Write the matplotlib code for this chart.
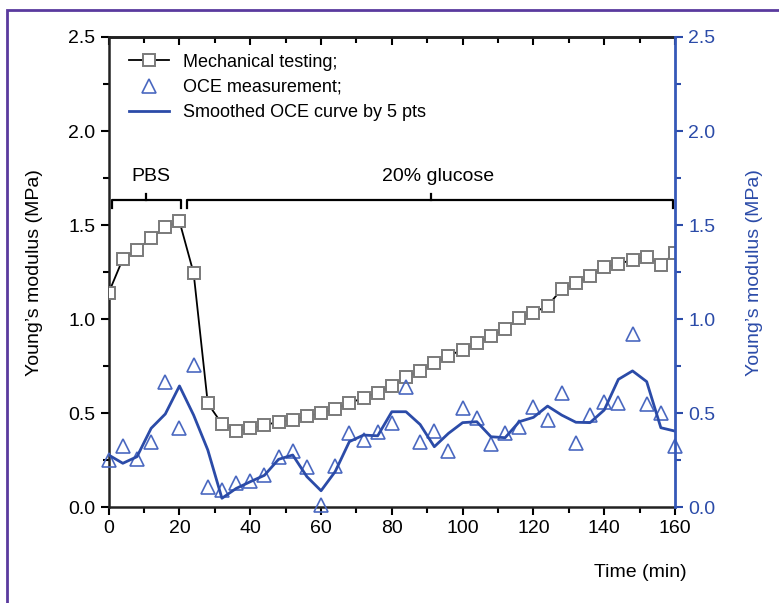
import matplotlib.pyplot as plt
from matplotlib.patches import Rectangle
from matplotlib.ticker import MultipleLocator
import numpy as np

plt.rcParams['font.family'] = ['Liberation Sans', 'DejaVu Sans']

time = np.arange(0, 161, 4)

mech = [1.14, 1.32, 1.37, 1.43, 1.49, 1.52, 1.245, 0.553, 0.443, 0.406,
        0.42, 0.436, 0.455, 0.464, 0.486, 0.50, 0.524, 0.553, 0.583, 0.61,
        0.645, 0.693, 0.725, 0.766, 0.806, 0.837, 0.872, 0.91, 0.948, 1.005,
        1.035, 1.07, 1.16, 1.19, 1.227, 1.277, 1.294, 1.315, 1.333, 1.29, 1.35]

oce = [0.25, 0.326, 0.255, 0.349, 0.668, 0.42, 0.757, 0.11, 0.092, 0.131,
       0.14, 0.172, 0.266, 0.30, 0.216, 0.012, 0.22, 0.393, 0.358, 0.402,
       0.45, 0.64, 0.349, 0.407, 0.30, 0.53, 0.473, 0.336, 0.397, 0.425,
       0.532, 0.464, 0.606, 0.343, 0.49, 0.56, 0.556, 0.92, 0.549, 0.503, 0.326]

smooth = [0.278, 0.234, 0.269, 0.42, 0.496, 0.645, 0.49, 0.305, 0.048, 0.10,
          0.136, 0.17, 0.255, 0.278, 0.163, 0.088, 0.19, 0.349, 0.384, 0.38,
          0.508, 0.508, 0.44, 0.322, 0.393, 0.45, 0.455, 0.375, 0.37, 0.455,
          0.478, 0.538, 0.49, 0.452, 0.45, 0.517, 0.68, 0.725, 0.668, 0.423, 0.405]

blue = '#2b4ba8'
fs = 14

fig = plt.figure(figsize=(7.79, 6.03), dpi=100)
ax = fig.add_axes([0.1395, 0.1587, 0.727, 0.78])

ax.plot(time, mech, color='black', lw=1.3, marker='s', ms=8.5, mfc='white',
        mec='#7a7a7a', mew=1.4, label='Mechanical testing;', zorder=3)
ax.plot(time, oce, ls='none', marker='^', ms=10, mfc='none', mec='#4a68c0',
        mew=1.2, label='OCE measurement;', clip_on=False, zorder=4)
ax.plot(time, smooth, color=blue, lw=2, label='Smoothed OCE curve by 5 pts', zorder=5)

ax.set_xlim(0, 160)
ax.set_ylim(0, 2.5)
ax.xaxis.set_major_locator(MultipleLocator(20))
ax.xaxis.set_minor_locator(MultipleLocator(10))
ax.yaxis.set_major_locator(MultipleLocator(0.5))
ax.yaxis.set_minor_locator(MultipleLocator(0.25))
ax.yaxis.set_major_formatter(plt.FormatStrFormatter('%.1f'))
ax.tick_params(axis='both', which='both', direction='out', labelsize=fs, width=1.5)
ax.tick_params(which='major', length=6)
ax.tick_params(which='minor', length=4)
for s in ['left', 'bottom', 'top']:
    ax.spines[s].set_linewidth(1.8)
    ax.spines[s].set_color('#222222')
ax.spines['right'].set_visible(False)
ax.set_ylabel('Young’s modulus (MPa)', fontsize=fs, labelpad=18)
ax.set_xlabel('Time (min)', fontsize=fs)
ax.xaxis.set_label_coords(1.02, -0.12)
ax.xaxis.label.set_horizontalalignment('right')

# inward ticks along the top edge
top = ax.secondary_xaxis('top')
top.xaxis.set_major_locator(MultipleLocator(20))
top.xaxis.set_minor_locator(MultipleLocator(10))
top.tick_params(which='both', direction='in', labeltop=False, width=1.5)
top.tick_params(which='major', length=6)
top.tick_params(which='minor', length=4)
top.spines['top'].set_linewidth(1.8)

ax2 = ax.twinx()
ax2.set_ylim(0, 2.5)
ax2.yaxis.set_major_locator(MultipleLocator(0.5))
ax2.yaxis.set_minor_locator(MultipleLocator(0.25))
ax2.yaxis.set_major_formatter(plt.FormatStrFormatter('%.1f'))
ax2.tick_params(axis='y', which='both', colors=blue, labelsize=fs, width=1.5)
ax2.tick_params(which='major', length=6)
ax2.tick_params(which='minor', length=4)
for s in ['left', 'bottom', 'top']:
    ax2.spines[s].set_visible(False)
ax2.spines['right'].set_color('#3558b8')
ax2.spines['right'].set_linewidth(2)
ax2.set_ylabel('Young’s modulus (MPa)', fontsize=fs, color=blue, labelpad=22)

# brackets for PBS and glucose periods
yb = 1.635
ax.plot([1, 1, 20.5, 20.5], [yb - 0.045, yb, yb, yb - 0.045], color='black', lw=1.6, clip_on=False)
ax.plot([10.5, 10.5], [yb, yb + 0.03], color='black', lw=1.6)
ax.plot([22, 22, 159.5, 159.5], [yb - 0.045, yb, yb, yb - 0.045], color='black', lw=1.6, clip_on=False)
ax.plot([91, 91], [yb, yb + 0.03], color='black', lw=1.6)
ax.text(12, 1.76, 'PBS', fontsize=fs, ha='center', va='center')
ax.text(93, 1.76, '20% glucose', fontsize=fs, ha='center', va='center')

ax.legend(loc='upper left', fontsize=13, frameon=False, handlelength=2.2,
          handletextpad=0.8, borderaxespad=0.4, labelspacing=0.45,
          bbox_to_anchor=(0.01, 0.995))

fig.patches.append(Rectangle((7 / 779, -0.1), 1.2, 1 - 10 / 603 + 0.1,
                             transform=fig.transFigure, fill=False,
                             edgecolor='#5a3a9e', lw=2, figure=fig))

fig.savefig('out.png', dpi=100)
